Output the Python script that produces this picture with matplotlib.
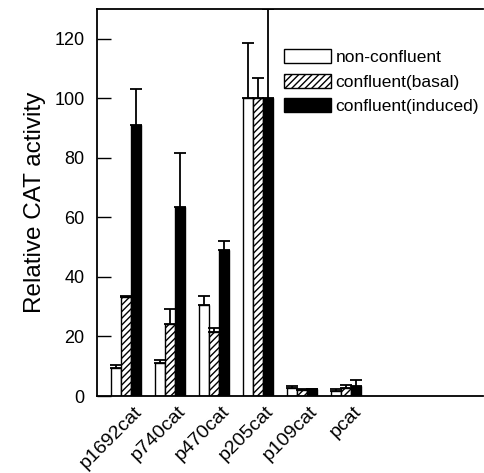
import matplotlib.pyplot as plt
import matplotlib.transforms as mtransforms
import numpy as np

plt.rcParams['font.family'] = ['Liberation Sans', 'DejaVu Sans']
plt.rcParams['hatch.linewidth'] = 1.0

# datos
construcciones = ['p1692cat', 'p740cat', 'p470cat', 'p205cat', 'p109cat', 'pcat']
no_confluente = [9.3, 11.0, 30.7, 100, 2.8, 1.8]
no_confluente_err = [1.0, 1.1, 2.8, 18.5, 0.6, 0.4]
basal = [33.4, 24.1, 21.5, 100, 2.0, 2.8]
basal_err = [0.3, 5.0, 1.2, 6.7, 0.3, 1.0]
inducido = [91.2, 63.5, 49.0, 100, 2.2, 3.2]
inducido_err = [11.9, 18.2, 3.2, 30.0, 0.3, 2.1]

series = [
    ('non-confluent', no_confluente, no_confluente_err, 'white', None),
    ('confluent(basal)', basal, basal_err, 'white', '/////'),
    ('confluent(induced)', inducido, inducido_err, 'black', None),
]

fig = plt.figure(figsize=(4.85, 4.73), dpi=100)
ax = fig.add_axes([97 / 485, 77 / 473, 386 / 485, 387 / 473])

x = np.arange(len(construcciones))
ancho = 0.227

handles = []
for k, (nombre, vals, errs, color, hatch) in enumerate(series):
    pos = x + (k - 1) * ancho
    b = ax.bar(pos, vals, ancho, color=color, edgecolor='black',
               linewidth=1.0, hatch=hatch, label=nombre, zorder=2)
    ax.errorbar(pos, vals, yerr=[np.zeros(len(vals)), errs], fmt='none',
                ecolor='black', elinewidth=1.3, capsize=4.5, capthick=1.3,
                zorder=3)
    handles.append(b)

ax.set_xlim(-0.66, 8.11)
ax.set_ylim(0, 130)
ax.set_yticks([0, 20, 40, 60, 80, 100, 120])
ax.tick_params(axis='y', direction='in', length=10, width=1, pad=9, labelsize=13)
ax.set_xticks(x)
ax.set_xticklabels(construcciones, rotation=45, ha='right', fontsize=14)
ax.tick_params(axis='x', length=0, pad=5)
desplaza = mtransforms.ScaledTranslation(19 / 100, 0, fig.dpi_scale_trans)
for lab in ax.get_xticklabels():
    lab.set_transform(lab.get_transform() + desplaza)

ax.spines['right'].set_visible(False)
for s in ['left', 'bottom', 'top']:
    ax.spines[s].set_linewidth(1.3)

ax.set_ylabel('Relative CAT activity', fontsize=17.5, labelpad=6)

fig.legend(handles=handles, loc='upper left',
           bbox_to_anchor=(284 / 485, 1 - 49 / 473), frameon=False,
           fontsize=12.5, handlelength=2.7, handleheight=0.86,
           labelspacing=0.5, handletextpad=0.28, borderpad=0, borderaxespad=0)

fig.savefig('out.png', dpi=100)
